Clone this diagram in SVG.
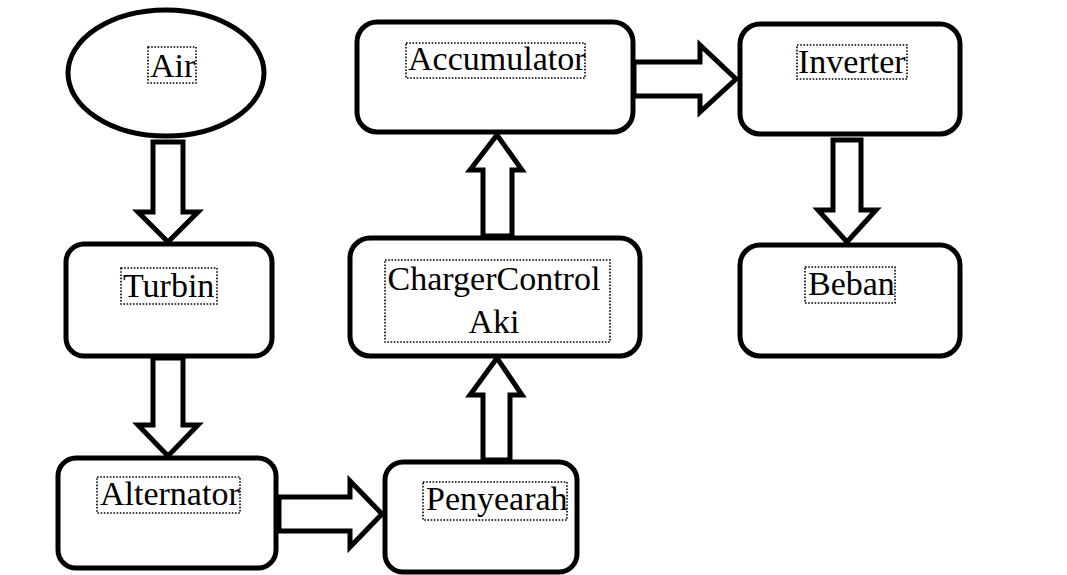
<svg xmlns="http://www.w3.org/2000/svg" width="1067" height="575" viewBox="0 0 1067 575">
<style>
.node{fill:#fff;stroke:#000;stroke-width:5}
.arr{fill:#fff;stroke:#000;stroke-width:5;stroke-linejoin:miter}
.tb{fill:none;stroke:#000;stroke-width:1.6;stroke-dasharray:1.6 1.6}
</style>
<rect width="1067" height="575" fill="#fff"/>
<g id="connectors">
<polygon class="arr" points="153,142 183,142 183,212 198,212 168,242 138,212 153,212"/>
<polygon class="arr" points="153,358 183,358 183,425 198,425 168,456 138,425 153,425"/>
<polygon class="arr" points="279,497 350,497 350,481 382,514 350,547 350,531 279,531"/>
<polygon class="arr" points="483,460 510,460 510,395 522,395 497,358 470,395 483,395"/>
<polygon class="arr" points="483,236 512,236 512,170 522,170 497,135 470,170 483,170"/>
<polygon class="arr" points="634,62 700,62 700,45 736,79 700,112 700,96 634,96"/>
<polygon class="arr" points="833,140 861,140 861,210 876,210 847,242 818,210 833,210"/>
</g>
<g id="air">
<ellipse class="node" cx="166" cy="73" rx="98" ry="63"/>
<rect class="tb" x="148" y="47" width="48" height="36"/>
<text x="150" y="77" font-size="34" font-family="'Liberation Serif'">Air</text>
</g>
<g id="turbin">
<rect class="node" x="66" y="244" width="206" height="112" rx="18"/>
<rect class="tb" x="121" y="268" width="96" height="36"/>
<text x="123" y="297" font-size="34" font-family="'Liberation Serif'">Turbin</text>
</g>
<g id="alternator">
<rect class="node" x="58" y="458" width="218" height="110" rx="18"/>
<rect class="tb" x="97" y="477" width="143" height="36"/>
<text x="100" y="505" font-size="34" font-family="'Liberation Serif'">Alternator</text>
</g>
<g id="penyearah">
<rect class="node" x="385" y="462" width="192" height="110" rx="18"/>
<rect class="tb" x="423" y="482" width="144" height="38"/>
<text x="426" y="510" font-size="34" font-family="'Liberation Serif'">Penyearah</text>
</g>
<g id="charger">
<rect class="node" x="350" y="238" width="290" height="118" rx="20"/>
<rect class="tb" x="385" y="260" width="225" height="82"/>
<text x="494" y="290" text-anchor="middle" font-size="34" font-family="'Liberation Serif'">ChargerControl</text>
<text x="494" y="333" text-anchor="middle" font-size="34" font-family="'Liberation Serif'">Aki</text>
</g>
<g id="accumulator">
<rect class="node" x="357" y="22" width="276" height="110" rx="20"/>
<rect class="tb" x="406" y="43" width="179" height="35"/>
<text x="408" y="70" font-size="34" font-family="'Liberation Serif'">Accumulator</text>
</g>
<g id="inverter">
<rect class="node" x="740" y="24" width="220" height="110" rx="20"/>
<rect class="tb" x="797" y="45" width="110" height="34"/>
<text x="798" y="73" font-size="34" font-family="'Liberation Serif'">Inverter</text>
</g>
<g id="beban">
<rect class="node" x="740" y="245" width="220" height="111" rx="20"/>
<rect class="tb" x="805" y="267" width="90" height="36"/>
<text x="808" y="295" font-size="34" font-family="'Liberation Serif'">Beban</text>
</g>
</svg>
